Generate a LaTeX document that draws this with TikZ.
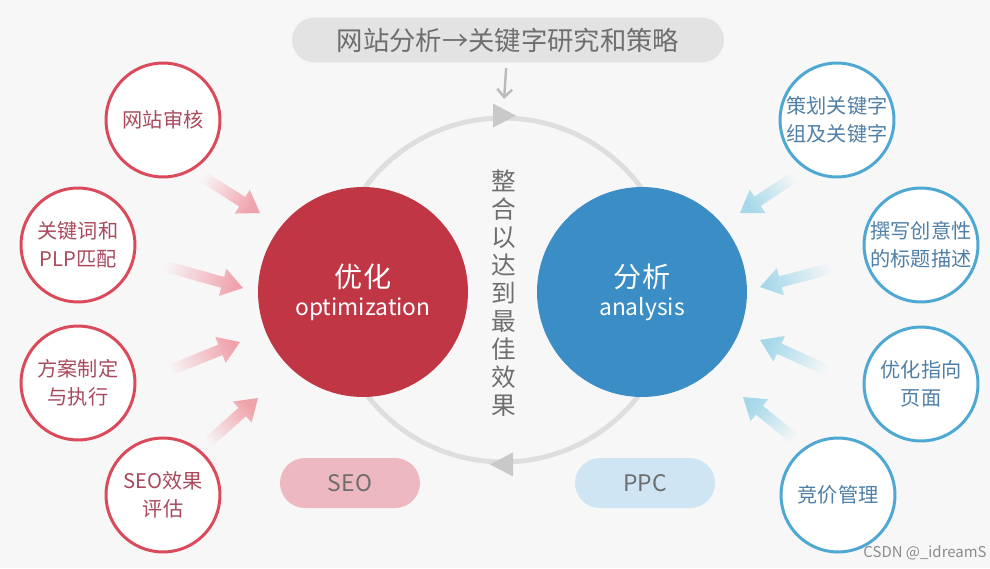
\documentclass[tikz,border=0pt]{standalone}
\usepackage{fontspec}
\setmainfont{Noto Sans CJK SC}
\usepackage{xcolor}
\definecolor{bgcol}{HTML}{F7F7F7}
\definecolor{pillgray}{HTML}{E3E3E3}
\definecolor{textgray}{HTML}{6E6E6E}
\definecolor{ringgray}{HTML}{DEDEDE}
\definecolor{headgray}{HTML}{C9C9C9}
\definecolor{downgray}{HTML}{BBBBBB}
\definecolor{seored}{HTML}{C13645}
\definecolor{ppcblue}{HTML}{3A8DC5}
\definecolor{redline}{HTML}{DB4A5A}
\definecolor{redtext}{HTML}{A94A5C}
\definecolor{blueline}{HTML}{4FA7D3}
\definecolor{bluetext}{HTML}{4F7FA6}
\definecolor{pinkpill}{HTML}{EDB8BF}
\definecolor{bluepill}{HTML}{CFE5F3}
\definecolor{pinkarrow}{HTML}{F0A2AB}
\definecolor{bluearrow}{HTML}{A6D8EA}
\usepackage{tikz}
\usetikzlibrary{calc,arrows.meta}
\tikzset{
  bigcircle/.style={ circle, minimum size=4.2cm, inner sep=0pt, text=white, align=center,
                     font=\fontsize{16}{18}\selectfont },
  redtask/.style  ={ circle, draw=redline, line width=1.7pt, fill=white, minimum size=2.28cm,
                     inner sep=0pt, align=center, text=redtext, font=\fontsize{11.5}{16}\selectfont },
  bluetask/.style ={ circle, draw=blueline, line width=1.7pt, fill=white, minimum size=2.28cm,
                     inner sep=0pt, align=center, text=bluetext, font=\fontsize{11.5}{16}\selectfont },
  pill/.style     ={ rectangle, rounded corners=0.5cm, minimum width=2.8cm, minimum height=1cm,
                     inner sep=0pt, text=textgray, font=\fontsize{13}{15}\selectfont },
  titlepill/.style={ rectangle, rounded corners=0.45cm, fill=pillgray, minimum width=8.64cm,
                     minimum height=0.9cm, inner sep=0pt, text=textgray, font=\fontsize{15}{17}\selectfont },
  ring/.style     ={ circle, draw=ringgray, line width=2.8pt, minimum size=6.88cm, inner sep=0pt },
  downflow/.style ={ -{Straight Barb[length=4.5pt,width=8.5pt]}, draw=downgray, line width=1.4pt,
                     shorten <=3pt, shorten >=9.5pt }
}
\newcommand\sublabel{\fontsize{13}{15}\selectfont}
\newcommand\fatarrow[3]{%
  \pgfmathanglebetweenpoints{\pgfpointanchor{#1}{center}}{\pgfpointanchor{#2}{center}}%
  \pgfmathsetmacro\arrowangle{\pgfmathresult+90}%
  \coordinate (#1n) at ($(#2)!12pt!(#1)$);
  \shade[top color=bgcol, bottom color=#3, shading angle=\arrowangle]
    ($(#1)!3.2pt!90:(#2)$) -- ($(#1n)!3.2pt!-90:(#1)$) -- ($(#1n)!8pt!-90:(#1)$) -- (#2)
    -- ($(#1n)!8pt!90:(#1)$) -- ($(#1n)!3.2pt!90:(#1)$) -- ($(#1)!3.2pt!-90:(#2)$) -- cycle;
}

\begin{document}
\begin{tikzpicture}[x=0.02cm,y=-0.02cm]
  \useasboundingbox (0,0) rectangle (990,568);
  \fill[bgcol] (0,0) rectangle (990,568);
%
  \node[titlepill] (title) at (508,40) {网站分析→关键字研究和策略};
  \node[ring] (ring) at (503,290) {};
  \draw[downflow] (title) -- (ring.north);
  \fill[headgray] (ring.north) ++(-10,-12) -- ++(23,12) -- ++(-23,12) -- cycle;
  \fill[headgray] (ring.south) ++(10,-12) -- ++(-23,12) -- ++(23,12) -- cycle;
%
  \node[bigcircle, fill=seored] (opt) at (363,292) {优化\\[-2pt]{\sublabel optimization}};
  \node[bigcircle, fill=ppcblue] (ana) at (642,292) {分析\\[-2pt]{\sublabel analysis}};
  \node[align=center, text=textgray, font=\fontsize{14}{15.9}\selectfont] (merge) at (504,293)
    {整\\合\\以\\达\\到\\最\\佳\\效\\果};
  \node[pill, fill=pinkpill] (seo) at (350,483) {SEO};
  \node[pill, fill=bluepill] (ppc) at (645,483) {PPC};
%
  \node[redtask] (audit) at (163,120) {网站审核};
  \node[redtask] (match) at (78,245) {关键词和\\PLP匹配};
  \node[redtask] (plan) at (78,383) {方案制定\\与执行};
  \node[redtask] (eval) at (163,495) {SEO效果\\评估};
  \node[bluetask] (group) at (837,120) {策划关键字\\组及关键字};
  \node[bluetask] (write) at (921,245) {撰写创意性\\的标题描述};
  \node[bluetask] (land) at (921,384) {优化指向\\页面};
  \node[bluetask] (bid) at (838,495) {竞价管理};
%
  \coordinate (t1) at (197,173); \coordinate (h1) at (260,213);
  \coordinate (t2) at (157,264); \coordinate (h2) at (243,288);
  \coordinate (t3) at (163,373); \coordinate (h3) at (240,342);
  \coordinate (t4) at (203,447); \coordinate (h4) at (258,398);
  \coordinate (t5) at (800,173); \coordinate (h5) at (740,213);
  \coordinate (t6) at (837,267); \coordinate (h6) at (760,287);
  \coordinate (t7) at (833,373); \coordinate (h7) at (760,340);
  \coordinate (t8) at (800,443); \coordinate (h8) at (743,397);
  \foreach \i in {1,...,4} {\fatarrow{t\i}{h\i}{pinkarrow}}
  \foreach \i in {5,...,8} {\fatarrow{t\i}{h\i}{bluearrow}}
%
  \node[text=textgray!80, font=\fontsize{8.5}{10}\selectfont] (mark) at (925,553) {CSDN @\_idreamS};
\end{tikzpicture}
\end{document}
